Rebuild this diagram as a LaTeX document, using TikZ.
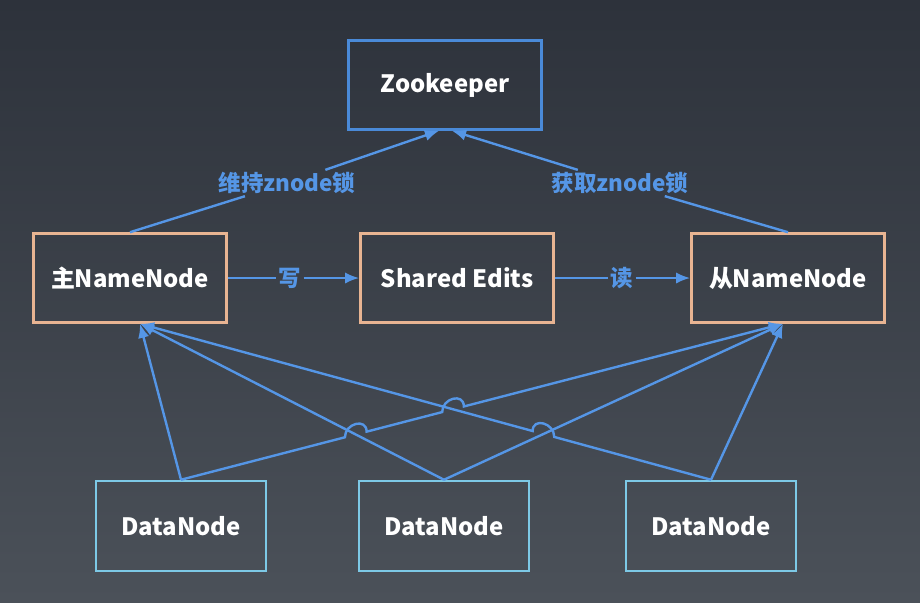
\documentclass[tikz,border=0pt]{standalone}
\usepackage{fontspec}
\setmainfont{Noto Sans CJK SC}
\usepackage{xcolor}
\usepackage{tikz}
\usetikzlibrary{arrows.meta,positioning,calc,intersections}

\definecolor{bgTop}{HTML}{2D323B}
\definecolor{bgBot}{HTML}{4B5159}
\definecolor{nnEdge}{HTML}{E8B492}
\definecolor{zkEdge}{HTML}{4A8AD8}
\definecolor{dnEdge}{HTML}{7DC9E6}
\definecolor{linkBlue}{HTML}{5596E6}

\begin{document}
\begin{tikzpicture}[x=0.25mm, y=-0.25mm,
    box/.style={draw, line width=1.8pt, minimum width=48.25mm, minimum height=22.25mm,
        text=white, font=\fontsize{17}{20}\selectfont\bfseries},
    nnbox/.style={box, draw=nnEdge},
    zkbox/.style={box, draw=zkEdge},
    dnbox/.style={box, draw=dnEdge, minimum width=42.5mm, minimum height=22.5mm},
    lbl/.style={text=linkBlue, inner sep=1.5pt, font=\fontsize{16}{19}\selectfont\bfseries},
    link/.style={draw=linkBlue, line width=1.7pt},
    tip/.style={-{Latex[length=10pt,width=8pt]}},
    hop/.style={out=90, in=90, looseness=1.6}]
    % background
    \shade[top color=bgTop, bottom color=bgBot] (0,0) rectangle (920,602);

    % boxes
    \node[zkbox] (zk) at (445,85) {Zookeeper};
    \node[nnbox] (master) at (130,278) {主NameNode};
    \node[nnbox] (shared) at (457,278) {Shared Edits};
    \node[nnbox] (slave) at (788,278) {从NameNode};
    \node[dnbox] (dn1) at (181,526) {DataNode};
    \node[dnbox] (dn2) at (444,526) {DataNode};
    \node[dnbox] (dn3) at (711,526) {DataNode};

    % arrow ends
    \coordinate (zkL) at ($(zk.south)+(-6,0)$);
    \coordinate (zkR) at ($(zk.south)+(7,0)$);
    \coordinate (mIn) at ($(master.south)+(10,0)$);
    \coordinate (sIn) at ($(slave.south)+(-5,0)$);

    % znode locks
    \node[lbl] (keep) at (287,183) {维持znode锁};
    \node[lbl] (take) at (620,183) {获取znode锁};
    \draw[link] (master.north) -- (keep);
    \draw[link, tip] (keep) -- (zkL);
    \draw[link] (slave.north) -- (take);
    \draw[link, tip] (take) -- (zkR);

    % edits
    \node[lbl] (write) at (290,278) {写};
    \node[lbl] (read) at (622,278) {读};
    \draw[link] (master.east) -- (write);
    \draw[link, tip] (write) -- (shared.west);
    \draw[link] (shared.east) -- (read);
    \draw[link, tip] (read) -- (slave.west);

    % crossing points
    \path[name path=d1s] (dn1.north) -- (sIn);
    \path[name path=d2m] (dn2.north) -- (mIn);
    \path[name path=d3m] (dn3.north) -- (mIn);
    \path[name path=d2s] (dn2.north) -- (sIn);
    \path[name intersections={of=d1s and d2m, by=xa}];
    \path[name intersections={of=d1s and d3m, by=xb}];
    \path[name intersections={of=d3m and d2s, by=xc}];

    % heartbeats
    \draw[link, tip] (dn1.north) -- (mIn);
    \draw[link, tip] (dn1.north) -- ($(xa)!2.8mm!(dn1.north)$)
        to[hop] ($(xa)!2.8mm!(sIn)$) -- ($(xb)!2.8mm!(dn1.north)$)
        to[hop] ($(xb)!2.8mm!(sIn)$) -- (sIn);
    \draw[link, tip] (dn2.north) -- (mIn);
    \draw[link, tip] (dn2.north) -- (sIn);
    \draw[link, tip] (dn3.north) -- ($(xc)!2.8mm!(dn3.north)$)
        to[hop] ($(xc)!2.8mm!(mIn)$) -- (mIn);
    \draw[link, tip] (dn3.north) -- (sIn);
\end{tikzpicture}
\end{document}
